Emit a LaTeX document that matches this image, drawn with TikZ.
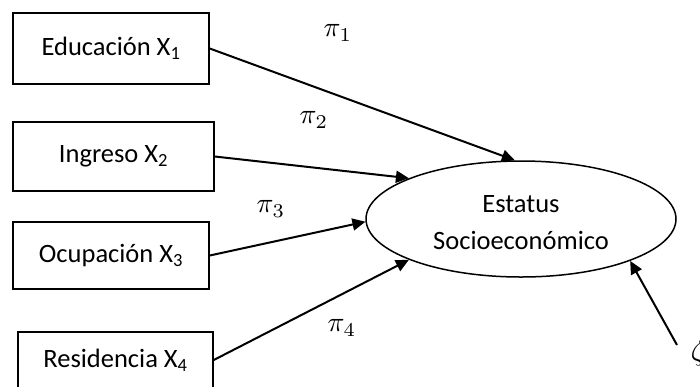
\documentclass[tikz,border=0pt]{standalone}
\usepackage{graphicx}
\usepackage[no-math]{fontspec}
\setmainfont{Carlito}
\usetikzlibrary{arrows.meta,shapes.geometric}
\newcommand{\coeftext}[1]{\scalebox{2.8}{$#1$}}
\begin{document}
\begin{tikzpicture}[x=1pt,y=-1pt,
  box/.style={draw,line width=1.5pt,inner sep=0pt,
    font=\fontsize{26.5}{32}\selectfont},
  latent/.style={draw,ellipse,line width=1.5pt,inner sep=0pt,
    minimum width=310pt,minimum height=116pt},
  latenttext/.style={inner sep=0pt,align=center,
    font=\fontsize{26.5}{37}\selectfont},
  coef/.style={inner sep=0pt},
  arr/.style={line width=2pt,-{Triangle[length=13pt,width=12pt]}}]
  \clip (0,0) rectangle (700,386);
  \fill[white] (0,0) rectangle (700,386);

  % observed indicators
  \node[box,minimum width=196pt,minimum height=71pt] (b1) at (111,48.5) {Educación X\textsubscript{1}};
  \node[box,minimum width=201pt,minimum height=69pt] (b2) at (113.5,156.5) {Ingreso X\textsubscript{2}};
  \node[box,minimum width=196pt,minimum height=67pt] (b3) at (111,255.5) {Ocupación X\textsubscript{3}};
  \node[box,minimum width=195pt,minimum height=56pt] (b4) at (115.5,360) {Residencia X\textsubscript{4}};

  % latent construct
  \node[latent] (e) at (521,219) {};
  \node[latenttext] (et) at (521,223) {Estatus\\Socioeconómico};

  % path coefficients
  \node[coef] (p1) at (338,33) {\coeftext{\pi_1}};
  \node[coef] (p2) at (314,120) {\coeftext{\pi_2}};
  \node[coef] (p3) at (271,209) {\coeftext{\pi_3}};
  \node[coef] (p4) at (342,328) {\coeftext{\pi_4}};
  \node[coef] (z) at (698,353) {\coeftext{\zeta}};
  \coordinate (zt) at (677,345);

  % paths
  \draw[arr] (b1.east) -- (e.96);
  \draw[arr] (b2.east) -- (e.160);
  \draw[arr] (b3.east) -- (e.181);
  \draw[arr] (b4.east) -- (e.200.7);
  \draw[arr] (zt) -- (e.339);
\end{tikzpicture}
\end{document}
